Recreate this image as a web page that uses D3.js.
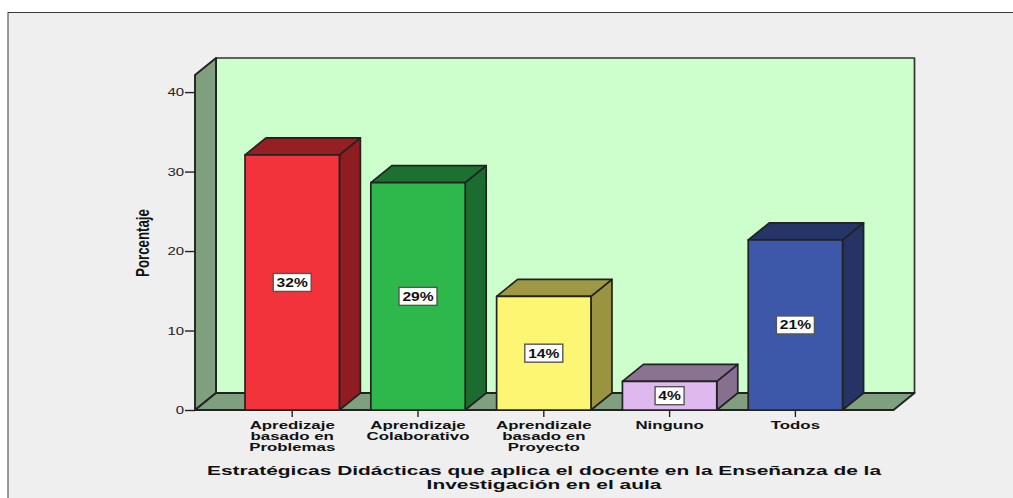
<!DOCTYPE html>
<html>
<head>
<meta charset="utf-8">
<script src="https://cdnjs.cloudflare.com/ajax/libs/d3/7.8.5/d3.min.js"></script>
<style>
html, body { margin: 0; padding: 0; background: #fff; overflow: hidden; }
svg { display: block; font-family: "Liberation Sans", Arial, sans-serif; }
</style>
</head>
<body>
<svg width="1013" height="498"></svg>
<script>
const categories = ['Apredizaje basado en Problemas', 'Aprendizaje Colaborativo', 'Aprendizale basado en Proyecto', 'Ninguno', 'Todos']
const catLines = [['Apredizaje', 'basado en', 'Problemas'], ['Aprendizaje', 'Colaborativo'], ['Aprendizale', 'basado en', 'Proyecto'], ['Ninguno'], ['Todos']]
const values = [32.1, 28.6, 14.3, 3.6, 21.4]
const labels = ['32%', '29%', '14%', '4%', '21%']
const frontColors = ['#f3333b', '#2eb84c', '#fdf673', '#dfb8f0', '#3d58a8']
const topColors = ['#951f23', '#1c7030', '#9e9845', '#8a7292', '#263567']
const sideColors = ['#8e1c20', '#1b6c2e', '#9a9440', '#87708f', '#253465']
const yTicks = [0, 10, 20, 30, 40]
const titleLines = ['Estratégicas Didácticas que aplica el docente en la Enseñanza de la', 'Investigación en el aula']

const svg = d3.select('svg')
const dx = 21, dy = 17

// outer panel
svg.append('rect').attr('x', 8).attr('y', 12.5).attr('width', 1010).attr('height', 490)
	.attr('fill', '#efefef').attr('stroke', '#3a3a3a').attr('stroke-width', 1)

const y = d3.scaleLinear().domain([0, 42.15]).range([410, 75])
const x = d3.scaleBand().domain(categories).range([229.3, 858.3]).paddingInner(0.25).paddingOuter(0.125)

const leftX = 195, rightX = 893.5
const baseY = y(0), topY = y(42.15)
const ink = '#222'

// back wall, side wall, floor
const poly = (pts, fill, stroke = ink, w = 1.9) => svg.append('polygon')
	.attr('points', pts.map(p => p.join(',')).join(' '))
	.attr('fill', fill).attr('stroke', stroke).attr('stroke-width', w).attr('stroke-linejoin', 'round')

poly([[leftX + dx, topY - dy], [rightX + dx, topY - dy], [rightX + dx, baseY - dy], [leftX + dx, baseY - dy]], '#ccffcc', '#333', 1.7)
poly([[leftX, topY], [leftX + dx, topY - dy], [leftX + dx, baseY - dy], [leftX, baseY]], '#7f9f7f')
poly([[leftX, baseY], [leftX + dx, baseY - dy], [rightX + dx, baseY - dy], [rightX, baseY]], '#7f9f7f')

// y axis
const yAxis = svg.append('g').attr('transform', `translate(${leftX},0)`)
	.call(d3.axisLeft(y).tickValues(yTicks).tickSize(10).tickPadding(2))
yAxis.select('.domain').remove()
yAxis.selectAll('line').attr('stroke', ink).attr('stroke-width', 1.4)
yAxis.selectAll('text').attr('font-size', 11.5).attr('fill', '#222')
	.attr('x', -11 / 1.3).attr('transform', 'scale(1.3,1)')

// x axis ticks
const xAxis = svg.append('g').attr('transform', `translate(0,${baseY})`)
	.call(d3.axisBottom(x).tickSize(7).tickFormat(''))
xAxis.select('.domain').remove()
xAxis.selectAll('line').attr('stroke', ink).attr('stroke-width', 1.4)

// bars
const bars = svg.selectAll('.bar').data(categories).enter().append('g').attr('class', 'bar')
bars.each(function (c, i) {
	const g = d3.select(this)
	const x0 = x(c), x1 = x(c) + x.bandwidth(), yt = y(values[i])
	const p = (pts, fill) => g.append('polygon')
		.attr('points', pts.map(q => q.join(',')).join(' '))
		.attr('fill', fill).attr('stroke', ink).attr('stroke-width', 1.7).attr('stroke-linejoin', 'round')
	p([[x1, baseY], [x1 + dx, baseY - dy], [x1 + dx, yt - dy], [x1, yt]], sideColors[i])
	p([[x0, yt], [x0 + dx, yt - dy], [x1 + dx, yt - dy], [x1, yt]], topColors[i])
	p([[x0, yt], [x1, yt], [x1, baseY], [x0, baseY]], frontColors[i])
})

// value labels
bars.each(function (c, i) {
	const g = d3.select(this)
	const cx = x(c) + x.bandwidth() / 2, cy = (y(values[i]) + baseY) / 2
	const w = labels[i].length > 2 ? 38 : 29
	g.append('rect').attr('x', cx - w / 2).attr('y', cy - 9).attr('width', w).attr('height', 18)
		.attr('fill', '#fff').attr('stroke', '#555').attr('stroke-width', 1.4)
	g.append('text').attr('transform', `translate(${cx},${cy + 4.5}) scale(1.3,1)`)
		.attr('text-anchor', 'middle').attr('font-size', 12).attr('font-weight', 'bold').attr('fill', '#111')
		.text(labels[i])
})

// category labels
categories.forEach((c, i) => {
	const cx = x(c) + x.bandwidth() / 2
	catLines[i].forEach((t, j) => {
		svg.append('text').attr('transform', `translate(${cx},${428.5 + j * 11.4}) scale(1.56,1)`)
			.attr('text-anchor', 'middle').attr('font-size', 10.8).attr('font-weight', 'bold').attr('fill', '#111')
			.text(t)
	})
})

// axis titles
svg.append('text').attr('transform', 'translate(149,243) rotate(-90) scale(1.02,1.35)')
	.attr('text-anchor', 'middle').attr('font-size', 13).attr('font-weight', 'bold').attr('fill', '#111')
	.text('Porcentaje')

titleLines.forEach((t, j) => {
	svg.append('text').attr('transform', `translate(544,${474.8 + j * 13.8}) scale(1.585,1)`)
		.attr('text-anchor', 'middle').attr('font-size', 13.2).attr('font-weight', 'bold').attr('fill', '#111')
		.text(t)
})
</script>
</body>
</html>
